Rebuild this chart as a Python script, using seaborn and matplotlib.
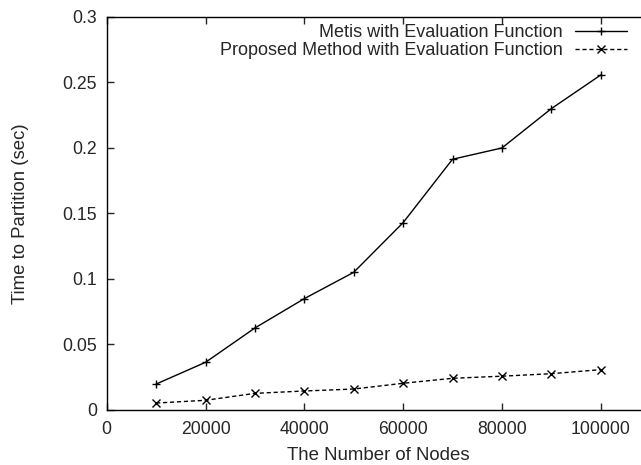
import pandas as pd
import matplotlib
matplotlib.use("Agg")
import matplotlib.pyplot as plt
import seaborn as sns

# data
nodes = [10000, 20000, 30000, 40000, 50000, 60000, 70000, 80000, 90000, 100000]
metis_time = [0.0198, 0.0364, 0.0626, 0.0850, 0.1051, 0.1430, 0.1914, 0.2000, 0.2300, 0.2557]
proposed_time = [0.0053, 0.0074, 0.0127, 0.0145, 0.0160, 0.0204, 0.0242, 0.0258, 0.0277, 0.0308]
series_names = ["Metis with Evaluation Function", "Proposed Method with Evaluation Function"]
x_ticks = [0, 20000, 40000, 60000, 80000, 100000]
y_ticks = [0, 0.05, 0.1, 0.15, 0.2, 0.25, 0.3]
y_tick_labels = ["0", "0.05", "0.1", "0.15", "0.2", "0.25", "0.3"]

df = pd.DataFrame({
    "nodes": nodes * 2,
    "time": metis_time + proposed_time,
    "method": [series_names[0]] * len(nodes) + [series_names[1]] * len(nodes),
})

sns.set_style("ticks")
plt.rcParams["font.family"] = ["Liberation Sans", "DejaVu Sans"]

fig = plt.figure(figsize=(6.41, 4.65), dpi=100)
# the right edge of the plot box sits just past the image border, as in the reference
ax = fig.add_axes([0.1665, 0.1183, 0.8477, 0.8452])

sns.lineplot(
    data=df, x="nodes", y="time", hue="method", style="method",
    hue_order=series_names, style_order=series_names,
    palette=["black", "black"],
    dashes=["", (3, 2)],
    markers=["+", "x"],
    markersize=6, markeredgewidth=1.0, markeredgecolor="black",
    linewidth=1.0,
    ax=ax,
)

ax.set_xlim(0, 110000)
ax.set_ylim(0, 0.3)
ax.set_xticks(x_ticks)
ax.set_xticklabels([str(v) for v in x_ticks])
ax.set_yticks(y_ticks)
ax.set_yticklabels(y_tick_labels)
ax.tick_params(direction="in", top=True, right=True, length=5, width=1, labelsize=12.7)
ax.tick_params(axis="x", pad=8)
ax.tick_params(axis="y", pad=7)
for s in ax.spines.values():
    s.set_visible(True)
    s.set_linewidth(1.0)
    s.set_color("black")

ax.set_xlabel("The Number of Nodes", fontsize=13.4)
ax.set_ylabel("Time to Partition (sec)", fontsize=13.4)
ax.xaxis.set_label_coords(0.5, -0.094)
ax.yaxis.set_label_coords(-0.143, 0.5)

handles, labels = ax.get_legend_handles_labels()
ax.legend(handles, labels, loc="upper right", bbox_to_anchor=(627 / 641, 0.948),
          bbox_transform=fig.transFigure, frameon=False, markerfirst=False,
          fontsize=13, handlelength=2.9, borderaxespad=0, borderpad=0,
          labelspacing=0.05, handletextpad=0.67)

fig.savefig("out.png", dpi=100)
plt.close(fig)
